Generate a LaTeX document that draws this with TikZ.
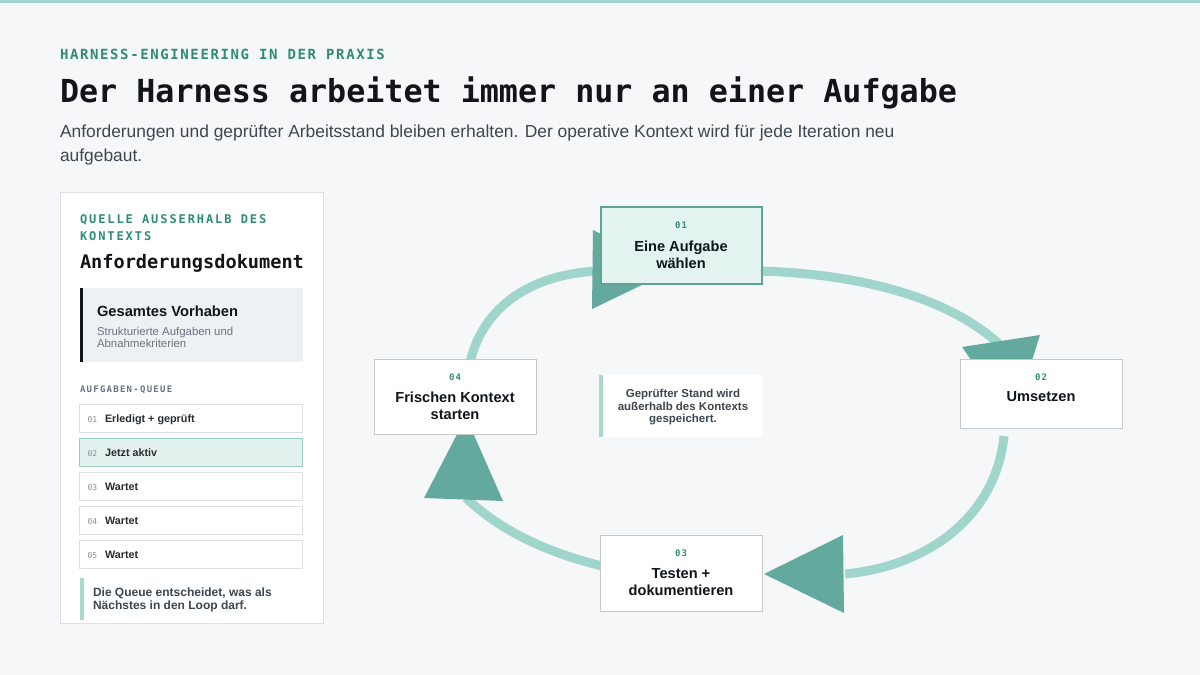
\documentclass[tikz,border=0pt]{standalone}
\usepackage{fontspec}
\setmainfont{Liberation Sans}
\newfontfamily\mono{DejaVu Sans Mono}
\newfontfamily\monoA[LetterSpace=11.5]{DejaVu Sans Mono}
\newfontfamily\monoB[LetterSpace=16]{DejaVu Sans Mono}
\newfontfamily\monoC[LetterSpace=14]{DejaVu Sans Mono}
\newcommand\setfs[1]{\fontsize{#1}{#1}\selectfont}
\definecolor{bg}{HTML}{F5F7F9}
\definecolor{topbar}{HTML}{A3D3CD}
\definecolor{teal}{HTML}{2F8C75}
\definecolor{ink}{HTML}{111418}
\definecolor{body}{HTML}{3E4650}
\definecolor{muted}{HTML}{6B7280}
\definecolor{cardline}{HTML}{DCE0E4}
\definecolor{graybox}{HTML}{EEF1F4}
\definecolor{activefill}{HTML}{E3F2EE}
\definecolor{activeline}{HTML}{9CCDC1}
\definecolor{arcc}{HTML}{9FD5CA}
\definecolor{tipc}{HTML}{64A99E}
\definecolor{b1fill}{HTML}{E3F3EF}
\definecolor{b1line}{HTML}{5FA594}
\definecolor{notebar}{HTML}{A8D9CD}
\begin{document}
\begin{tikzpicture}[x=1pt,y=-1pt,
  txt/.style={inner sep=0pt, outer sep=0pt, anchor=base west},
  ctxt/.style={inner sep=0pt, outer sep=0pt, anchor=base},
  card/.style={draw=cardline, fill=white, line width=0.9pt, inner sep=0pt, outer sep=0pt},
  loopbox/.style={draw=cardline!75!gray, fill=white, line width=1pt, inner sep=0pt, outer sep=0pt},
  activebox/.style={draw=b1line, fill=b1fill, line width=1.5pt, inner sep=0pt, outer sep=0pt},
  arcline/.style={draw=arcc, line width=9pt},
  tip/.style={fill=tipc},
  qnum/.style={txt, font=\mono\setfs{8}, text=muted!80},
  qlabel/.style={txt, font=\bfseries\setfs{10.8}, text=ink!90},
  bnum/.style={ctxt, font=\monoA\bfseries\setfs{9}, text=teal},
  btitle/.style={ctxt, font=\bfseries\setfs{14.6}, text=ink},
]
\useasboundingbox (0,0) rectangle (1200,675);
\fill[bg] (0,0) rectangle (1200,675);
\fill[topbar] (0,0) rectangle (1200,3);

% header
\node[txt, font=\monoA\bfseries\setfs{14}, text=teal] (eyebrow) at (60,59) {HARNESS-ENGINEERING IN DER PRAXIS};
\node[txt, font=\mono\bfseries\setfs{31.7}, text=ink] (title) at (60,102) {Der Harness arbeitet immer nur an einer Aufgabe};
\node[txt, font=\setfs{17.4}, text=body] (sub1) at (60,137) {Anforderungen und geprüfter Arbeitsstand bleiben erhalten. Der operative Kontext wird für jede Iteration neu};
\node[txt, font=\setfs{17.4}, text=body] (sub2) at (60,161) {aufgebaut.};

% left panel
\node[card, minimum width=263pt, minimum height=431pt] (panel) at (191.5,408) {};
\node[txt, font=\monoB\bfseries\setfs{12}, text=teal] (src1) at (80,223.5) {QUELLE AUSSERHALB DES};
\node[txt, font=\monoB\bfseries\setfs{12}, text=teal] (src2) at (80,240) {KONTEXTS};
\node[txt, font=\mono\bfseries\setfs{18.6}, text=ink] (doc) at (80,268) {Anforderungsdokument};
\node[fill=graybox, inner sep=0pt, minimum width=223pt, minimum height=74pt] (gbox) at (191.5,325) {};
\fill[ink] (gbox.north west) rectangle ([xshift=3.5pt]gbox.south west);
\node[txt, font=\bfseries\setfs{14.7}, text=ink] (gtitle) at (97,316) {Gesamtes Vorhaben};
\node[txt, font=\setfs{11.4}, text=muted] (gsub1) at (97,335) {Strukturierte Aufgaben und};
\node[txt, font=\setfs{11.4}, text=muted] (gsub2) at (97,347) {Abnahmekriterien};
\node[txt, font=\monoC\bfseries\setfs{9}, text=muted] (qhead) at (80,392.3) {AUFGABEN-QUEUE};

\node[card, minimum width=223pt, minimum height=28pt] (q1) at (191,418) {};
\node[draw=activeline, fill=activefill, line width=0.9pt, inner sep=0pt, minimum width=223pt, minimum height=28pt] (q2) at (191,452) {};
\node[card, minimum width=223pt, minimum height=28pt] (q3) at (191,486) {};
\node[card, minimum width=223pt, minimum height=28pt] (q4) at (191,520) {};
\node[card, minimum width=223pt, minimum height=28pt] (q5) at (191,554) {};
\node[qnum] (q1n) at (87.5,422.5) {01};
\node[qlabel] (q1l) at (105,422.5) {Erledigt + geprüft};
\node[qnum] (q2n) at (87.5,456.5) {02};
\node[qlabel] (q2l) at (105,456.5) {Jetzt aktiv};
\node[qnum] (q3n) at (87.5,490.5) {03};
\node[qlabel] (q3l) at (105,490.5) {Wartet};
\node[qnum] (q4n) at (87.5,524.5) {04};
\node[qlabel] (q4l) at (105,524.5) {Wartet};
\node[qnum] (q5n) at (87.5,558.5) {05};
\node[qlabel] (q5l) at (105,558.5) {Wartet};

\fill[notebar] (80,578) rectangle (83.5,620);
\node[txt, font=\bfseries\setfs{12}, text=body] (qn1) at (93,596) {Die Queue entscheidet, was als};
\node[txt, font=\bfseries\setfs{12}, text=body] (qn2) at (93,609.5) {Nächstes in den Loop darf.};

% loop connectors
\coordinate (a41s) at (470,362);
\coordinate (a41e) at (600,271);
\coordinate (a12s) at (755,271);
\coordinate (a12e) at (1000,345);
\coordinate (a23s) at (1004,436);
\coordinate (a23e) at (845,574);
\coordinate (a34s) at (602,566);
\coordinate (a34e) at (466,498);
\draw[arcline] (a41s) .. controls (485,300) and (540,273) .. (a41e);
\draw[arcline] (a12s) .. controls (860,273) and (950,298) .. (a12e);
\draw[arcline] (a23s) .. controls (996,515) and (930,566) .. (a23e);
\draw[arcline] (a34s) .. controls (545,552) and (500,530) .. (a34e);

% arrowheads
\fill[tip] (593,230) -- (592,309) -- (673,270) -- cycle;
\fill[tip] (962,347) -- (1040,335) -- (1013,420) -- cycle;
\fill[tip] (843,535) -- (844,613) -- (764,574) -- cycle;
\fill[tip] (424,498) -- (503,501) -- (466,417) -- cycle;

% loop boxes
\node[activebox, minimum width=161pt, minimum height=77pt] (b1) at (681.5,245.5) {};
\node[loopbox, minimum width=162pt, minimum height=69pt] (b2) at (1041,393.5) {};
\node[loopbox, minimum width=162pt, minimum height=76pt] (b3) at (681,573) {};
\node[loopbox, minimum width=162pt, minimum height=75pt] (b4) at (455,396.5) {};

\node[bnum] (b1n) at (681,228.3) {01};
\node[btitle] (b1t1) at (681,251) {Eine Aufgabe};
\node[btitle] (b1t2) at (681,268.3) {wählen};
\node[bnum] (b2n) at (1041,380) {02};
\node[btitle] (b2t1) at (1041,401.7) {Umsetzen};
\node[bnum] (b3n) at (681,556) {03};
\node[btitle] (b3t1) at (681,578.3) {Testen +};
\node[btitle] (b3t2) at (681,595.7) {dokumentieren};
\node[bnum] (b4n) at (455,380) {04};
\node[btitle] (b4t1) at (455,402.7) {Frischen Kontext};
\node[btitle] (b4t2) at (455,419.3) {starten};

% center note
\node[fill=white, inner sep=0pt, minimum width=164pt, minimum height=62pt] (note) at (681,406) {};
\fill[notebar] (note.north west) rectangle ([xshift=4pt]note.south west);
\node[ctxt, font=\bfseries\setfs{11.5}, text=body] (nt1) at (683,397.3) {Geprüfter Stand wird};
\node[ctxt, font=\bfseries\setfs{11.5}, text=body] (nt2) at (683,410) {außerhalb des Kontexts};
\node[ctxt, font=\bfseries\setfs{11.5}, text=body] (nt3) at (683,422.7) {gespeichert.};
\end{tikzpicture}
\end{document}
